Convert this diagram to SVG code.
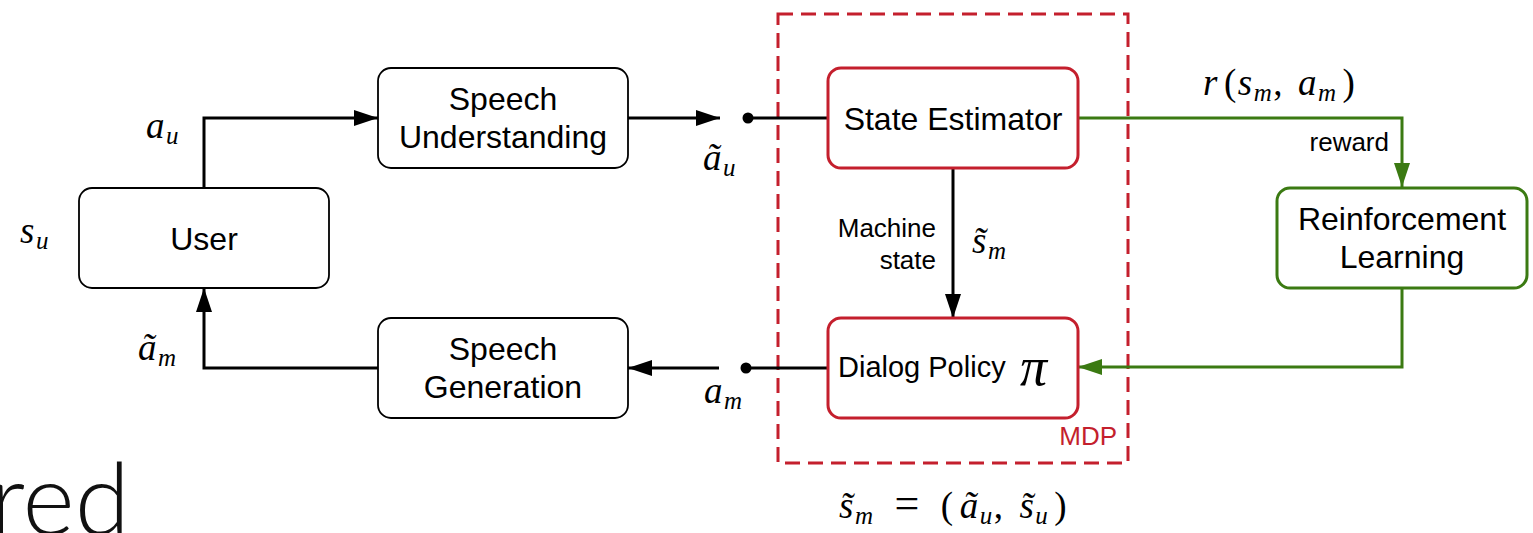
<svg xmlns="http://www.w3.org/2000/svg" width="1533" height="533" viewBox="0 0 1533 533">
<style>
.box{fill:#fff;stroke:#000;stroke-width:1.8}
.rbox{fill:#fff;stroke:#c41f2d;stroke-width:3}
.gbox{fill:#fff;stroke:#3b7a12;stroke-width:3}
.lbl{font-family:"Liberation Sans",Arial,sans-serif;font-size:32px;fill:#000;text-anchor:middle}
.sm{font-family:"Liberation Sans",Arial,sans-serif;font-size:26px;fill:#000}
.m{font-family:"Liberation Serif","Times New Roman",serif;font-style:italic;font-size:37px;letter-spacing:1.5px;fill:#000}
.mr{font-style:normal}
.sub{font-size:25px}
.blk{fill:none;stroke:#000;stroke-width:3}
.grn{fill:none;stroke:#3b7a12;stroke-width:3}
</style>
<defs>
<marker id="ah" markerUnits="userSpaceOnUse" markerWidth="24" markerHeight="16" refX="24" refY="8" orient="auto"><path d="M0,0 L24,8 L0,16 z" fill="#000"/></marker>
<marker id="ahg" markerUnits="userSpaceOnUse" markerWidth="24" markerHeight="16" refX="24" refY="8" orient="auto"><path d="M0,0 L24,8 L0,16 z" fill="#3b7a12"/></marker>
</defs>

<text x="-10" y="535" style="font-family:Lato,'Open Sans',Inter,sans-serif;font-weight:300;font-size:100px;fill:#111">red</text>

<g id="mdp">
<rect x="778" y="14" width="350" height="449" fill="none" stroke="#c41f2d" stroke-width="3" stroke-dasharray="15 8"/>
<text x="1117" y="445" class="sm" style="fill:#c41f2d;text-anchor:end">MDP</text>
</g>

<g id="connectors">
<path class="blk" d="M204,188 V118 H378" marker-end="url(#ah)"/>
<path class="blk" d="M628,118 H720" marker-end="url(#ah)"/>
<circle cx="748" cy="118" r="5.5" fill="#000"/>
<path class="blk" d="M748,118 H828"/>
<path class="blk" d="M953,168 V318" marker-end="url(#ah)"/>
<circle cx="746" cy="368" r="5.5" fill="#000"/>
<path class="blk" d="M746,368 H827"/>
<path class="blk" d="M719,368 H628" marker-end="url(#ah)"/>
<path class="blk" d="M378,368 H204 V288" marker-end="url(#ah)"/>
<path class="grn" d="M1078,118 H1402 V187" marker-end="url(#ahg)"/>
<path class="grn" d="M1402,288 V367 H1078" marker-end="url(#ahg)"/>
</g>

<g id="user">
<rect class="box" x="79" y="188" width="250" height="100" rx="13"/>
<text class="lbl" x="204" y="250">User</text>
</g>
<g id="speech-understanding">
<rect class="box" x="378" y="68" width="250" height="100" rx="13"/>
<text class="lbl" x="503" y="110">Speech</text>
<text class="lbl" x="503" y="148">Understanding</text>
</g>
<g id="speech-generation">
<rect class="box" x="378" y="318" width="250" height="100" rx="13"/>
<text class="lbl" x="503" y="360">Speech</text>
<text class="lbl" x="503" y="398">Generation</text>
</g>
<g id="state-estimator">
<rect class="rbox" x="828" y="68" width="250" height="100" rx="13"/>
<text class="lbl" x="953" y="130">State Estimator</text>
</g>
<g id="dialog-policy">
<rect class="rbox" x="828" y="318" width="250" height="100" rx="13"/>
<text x="838" y="377" style="font-family:'Liberation Sans',Arial,sans-serif;font-size:29px;fill:#000">Dialog Policy</text>
<text x="1020" y="385" style="font-family:'Liberation Serif','Times New Roman',serif;font-style:italic;font-size:54px;fill:#000">π</text>
</g>
<g id="reinforcement-learning">
<rect class="gbox" x="1277" y="188" width="250" height="100" rx="13"/>
<text class="lbl" x="1402" y="230">Reinforcement</text>
<text class="lbl" x="1402" y="268">Learning</text>
</g>

<g id="labels">
<text class="sm" x="936" y="237" text-anchor="end">Machine</text>
<text class="sm" x="936" y="269" text-anchor="end">state</text>
<text class="sm" x="1389" y="151" text-anchor="end">reward</text>
<text class="m" x="146" y="138">a<tspan class="sub" dy="6">u</tspan></text>
<text class="m" x="20" y="243">s<tspan class="sub" dy="6">u</tspan></text>
<text class="m" x="138" y="360">ã<tspan class="sub" dy="6">m</tspan></text>
<text class="m" x="703" y="170">ã<tspan class="sub" dy="6">u</tspan></text>
<text class="m" x="704" y="403">a<tspan class="sub" dy="6">m</tspan></text>
<text class="m" x="972" y="253">s̃<tspan class="sub" dy="6">m</tspan></text>
<text class="m" x="1203" y="95">r<tspan class="mr" dx="5">(</tspan>s<tspan class="sub" dy="6">m</tspan><tspan class="mr" dy="-6">,</tspan><tspan dx="14">a</tspan><tspan class="sub" dy="6">m</tspan><tspan class="mr" dy="-6" dx="5">)</tspan></text>
<text class="m" x="839" y="518">s̃<tspan class="sub" dy="6">m</tspan><tspan class="mr" dy="-6" dx="20" style="font-size:44px">=</tspan><tspan class="mr" dx="20">(</tspan><tspan dx="5">ã</tspan><tspan class="sub" dy="6">u</tspan><tspan class="mr" dy="-6">,</tspan><tspan dx="15">s̃</tspan><tspan class="sub" dy="6">u</tspan><tspan class="mr" dy="-6" dx="5">)</tspan></text>
</g>
</svg>
